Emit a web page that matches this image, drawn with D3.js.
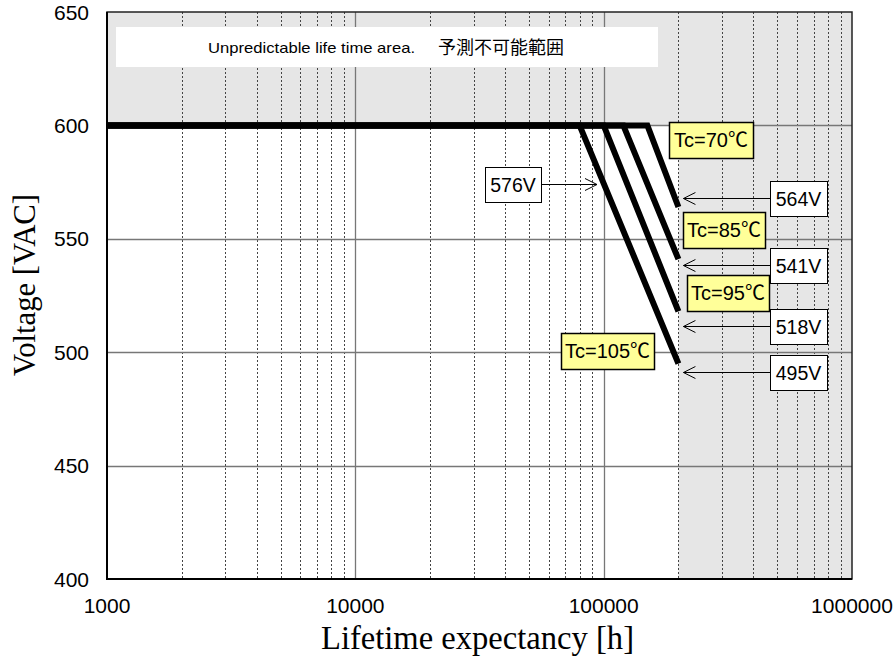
<!DOCTYPE html>
<html>
<head>
<meta charset="utf-8">
<script src="https://cdn.jsdelivr.net/npm/d3@7"></script>
<style>
  body { margin: 0; background: #fff; }
  text { font-family: "Liberation Sans", "Noto Sans CJK JP", Arial, sans-serif; }
  .title { font-family: "Liberation Serif", "Times New Roman", serif; }
</style>
</head>
<body>
<div id="chart"></div>
<script>
var width = 896;
var height = 662;

// data
var tempLabels = ["Tc=70\u2103", "Tc=85\u2103", "Tc=95\u2103", "Tc=105\u2103"];
var kneeHours = [150000, 120000, 100000, 80000];   // end of the 600V plateau
var endHours = 200000;
var endVolts = [564, 541, 518, 495];
var ratedVolt = 600;
var startHours = 1000;
var yTicks = [400, 450, 500, 550, 600, 650];
var xTicks = [1000, 10000, 100000, 1000000];
var noteLatin = "Unpredictable life time area.";
var noteJa = "\u4e88\u6e2c\u4e0d\u53ef\u80fd\u7bc4\u56f2";
var midLabel = "576V";

var margin = {left: 107, right: 44, top: 12, bottom: 83};

var x = d3.scaleLog()
    .domain([1000, 1000000])
    .range([margin.left, width - margin.right]);

var y = d3.scaleLinear()
    .domain([400, 650])
    .range([height - margin.bottom, margin.top]);

var svg = d3.select("#chart")
    .append("svg")
    .attr("width", width)
    .attr("height", height);

// gray "unpredictable" areas
svg.append("rect")
    .attr("x", x(1000)).attr("y", y(650))
    .attr("width", x(1000000) - x(1000))
    .attr("height", y(600) - y(650))
    .style("fill", "#e6e6e6");
svg.append("rect")
    .attr("x", x(endHours)).attr("y", y(600))
    .attr("width", x(1000000) - x(endHours))
    .attr("height", y(400) - y(600))
    .style("fill", "#e6e6e6");

// minor vertical grid
var minor = [];
[1000, 10000, 100000].forEach(function (d) {
    for (var k = 2; k <= 9; k++) minor.push(d * k);
});
svg.append("g").selectAll("line")
    .data(minor)
    .enter().append("line")
    .attr("x1", d => Math.round(x(d)) + 0.5).attr("x2", d => Math.round(x(d)) + 0.5)
    .attr("y1", y(650)).attr("y2", y(400))
    .style("stroke", "#444")
    .style("stroke-width", 1)
    .style("stroke-dasharray", "2,2");

// major grid
svg.append("g").selectAll("line")
    .data([10000, 100000])
    .enter().append("line")
    .attr("x1", d => Math.round(x(d)) + 0.5).attr("x2", d => Math.round(x(d)) + 0.5)
    .attr("y1", y(650)).attr("y2", y(400))
    .style("stroke", "#777")
    .style("stroke-width", 1.3);
svg.append("g").selectAll("line")
    .data([450, 500, 550, 600])
    .enter().append("line")
    .attr("x1", x(1000)).attr("x2", x(1000000))
    .attr("y1", d => Math.round(y(d)) + 0.5).attr("y2", d => Math.round(y(d)) + 0.5)
    .style("stroke", "#777")
    .style("stroke-width", 1.3);

// frame
svg.append("rect")
    .attr("x", x(1000)).attr("y", y(650))
    .attr("width", x(1000000) - x(1000))
    .attr("height", y(400) - y(650))
    .style("fill", "none")
    .style("stroke", "#222")
    .style("stroke-width", 1.5);
svg.append("line")
    .attr("x1", x(1000)).attr("x2", x(1000))
    .attr("y1", y(650)).attr("y2", y(400) + 1)
    .style("stroke", "#000").style("stroke-width", 2);
svg.append("line")
    .attr("x1", x(1000) - 1).attr("x2", x(1000000))
    .attr("y1", y(400)).attr("y2", y(400))
    .style("stroke", "#000").style("stroke-width", 2);

// note box
svg.append("rect")
    .attr("x", 116).attr("y", 27)
    .attr("width", 542).attr("height", 40)
    .style("fill", "#fff");
svg.append("text")
    .attr("x", 208).attr("y", 53)
    .attr("textLength", 207)
    .attr("lengthAdjust", "spacingAndGlyphs")
    .style("font-size", "15px")
    .text(noteLatin);
svg.append("text")
    .attr("x", 438).attr("y", 54)
    .style("font-family", "'Noto Sans CJK JP', sans-serif")
    .style("font-size", "18px")
    .text(noteJa);

// lifetime curves
var line = d3.line()
    .x(d => x(d[0]))
    .y(d => y(d[1]));

svg.append("g").selectAll("path")
    .data(kneeHours.map((k, i) => [[startHours, ratedVolt], [k, ratedVolt], [endHours, endVolts[i]]]))
    .enter().append("path")
    .attr("d", line)
    .style("fill", "none")
    .style("stroke", "#000")
    .style("stroke-width", 6)
    .style("stroke-linejoin", "miter");

// arrows
function arrow(x1, y1, x2, dir) {
    var g = svg.append("g");
    g.append("line")
        .attr("x1", x1).attr("x2", x2)
        .attr("y1", y1 + 0.5).attr("y2", y1 + 0.5)
        .style("stroke", "#000").style("stroke-width", 1);
    g.append("path")
        .attr("d", "M" + (x2 - dir * 12) + "," + (y1 + 0.5 - 6) + "L" + x2 + "," + (y1 + 0.5) + "L" + (x2 - dir * 12) + "," + (y1 + 0.5 + 6))
        .style("fill", "none").style("stroke", "#000").style("stroke-width", 1);
}

function box(bx, by, bw, bh, txt, fill, size) {
    svg.append("rect")
        .attr("x", bx + 0.5).attr("y", by + 0.5)
        .attr("width", bw).attr("height", bh)
        .style("fill", fill)
        .style("stroke", "#000")
        .style("stroke-width", fill === "#fff" ? 1 : 1.5);
    svg.append("text")
        .attr("x", bx + bw / 2).attr("y", by + bh / 2 + size * 0.36)
        .attr("text-anchor", "middle")
        .style("font-size", size + "px")
        .text(txt);
}

// voltage labels at the end of each curve
var arrowDy = [-9, 6, 15, 8];
endVolts.forEach(function (v, i) {
    var ay = Math.round(y(v)) + arrowDy[i];
    arrow(770, ay, x(endHours) + 5, -1);
    box(770, ay - 17, 57, 35, v + "V", "#fff", 19.5);
});

// 576V label
arrow(541, 184, 597, 1);
box(485, 167, 56, 35, midLabel, "#fff", 19.5);

// temperature labels
var tcBox = [[669, 122, 84], [683, 212, 82], [687, 275, 82], [561, 333, 93]];
tempLabels.forEach(function (t, i) {
    box(tcBox[i][0], tcBox[i][1], tcBox[i][2], 36, t, "#ffff99", 20);
});

// axes labels
svg.append("g").selectAll("text")
    .data(yTicks)
    .enter().append("text")
    .attr("x", 89)
    .attr("y", d => y(d) + 7.5)
    .attr("text-anchor", "end")
    .style("font-size", "21px")
    .text(d => d);

svg.append("g").selectAll("text")
    .data(xTicks)
    .enter().append("text")
    .attr("x", d => x(d))
    .attr("y", 613)
    .attr("text-anchor", "middle")
    .style("font-size", "21px")
    .text(d => d);

svg.append("text")
    .attr("class", "title")
    .attr("x", 321).attr("y", 649)
    .attr("textLength", 313)
    .attr("lengthAdjust", "spacingAndGlyphs")
    .style("font-size", "33px")
    .text("Lifetime expectancy [h]");

svg.append("text")
    .attr("class", "title")
    .attr("transform", "translate(35,376) rotate(-90)")
    .attr("textLength", 182)
    .attr("lengthAdjust", "spacingAndGlyphs")
    .style("font-size", "31px")
    .text("Voltage [VAC]");
</script>
</body>
</html>
